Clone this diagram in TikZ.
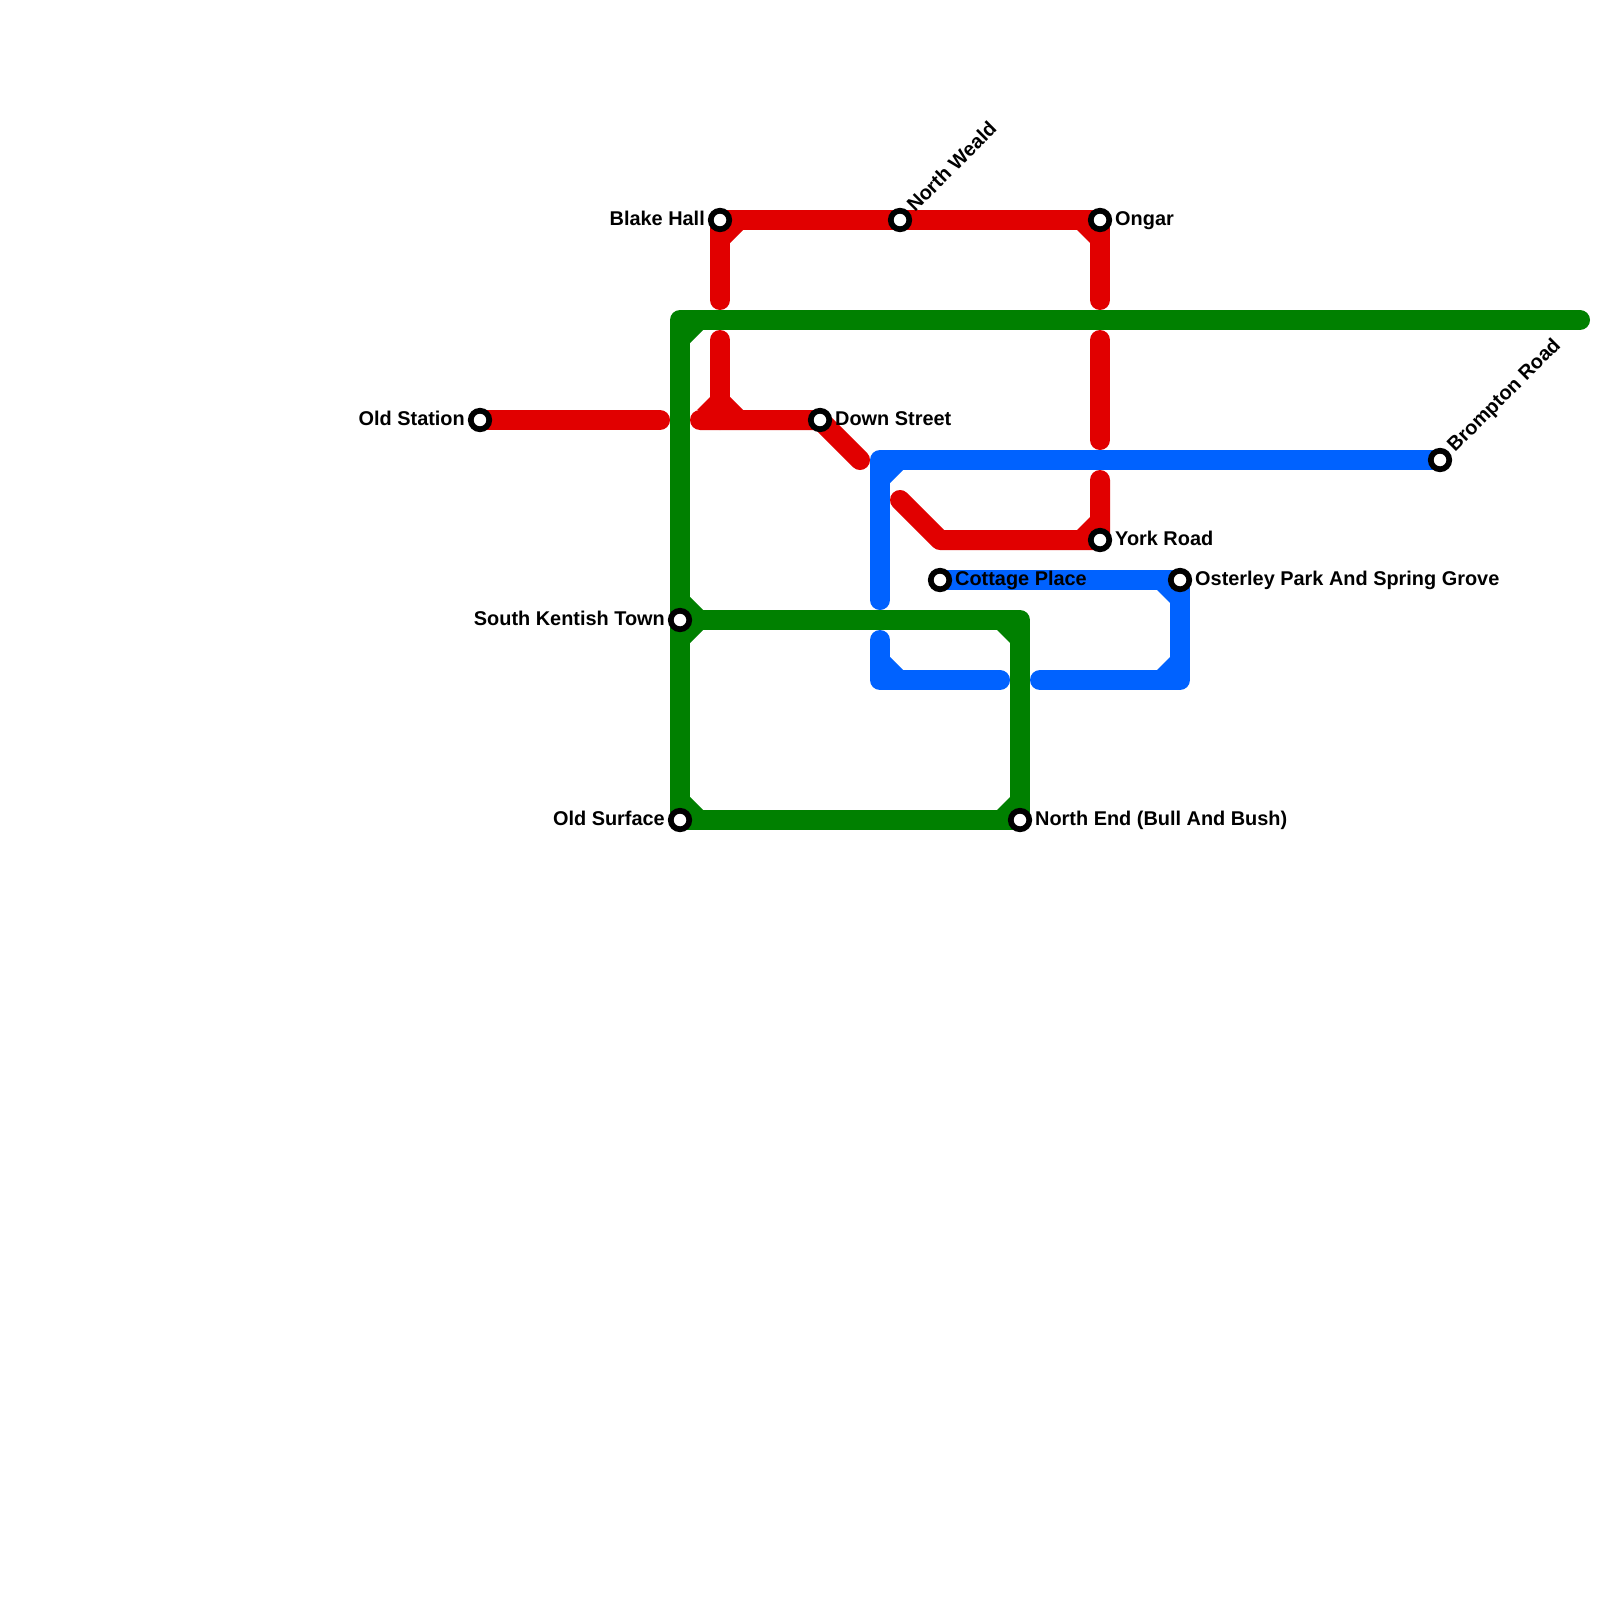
\documentclass[tikz,border=0pt]{standalone}
\usepackage{fontspec}
\setmainfont{Liberation Sans}[BoldFont={Liberation Sans Bold}]
\usetikzlibrary{backgrounds}
\definecolor{mred}{RGB}{225,0,0}
\definecolor{mgreen}{RGB}{0,128,0}
\definecolor{mblue}{RGB}{0,98,255}
\tikzset{
  x=1pt,y=-1pt,
  stn/.style={circle,draw=black,fill=white,line width=5.7pt,minimum size=18.5pt,inner sep=0pt,outer sep=0pt},
  lab/.style={font=\bfseries\fontsize{19.9}{22}\selectfont,text=black,inner sep=0pt},
  route/.style={line width=20pt,line cap=round,line join=round},
  redline/.style={route,draw=mred},
  greenline/.style={route,draw=mgreen},
  blueline/.style={route,draw=mblue},
}
\newcommand{\chamf}[4]{\fill[#2] (#1) -- ++({#3*10},{#4*23}) -- ++({#3*13},{#4*(-13)}) -- cycle;}
\begin{document}
\begin{tikzpicture}
\useasboundingbox (0,0) rectangle (1600,1600);
% stations
\node[stn] (oldstation) at (480,420) {};
\node[stn] (blake) at (720,220) {};
\node[stn] (weald) at (900,220) {};
\node[stn] (ongar) at (1100,220) {};
\node[stn] (down) at (820,420) {};
\node[stn] (york) at (1100,540) {};
\node[stn] (cottage) at (940,580) {};
\node[stn] (osterley) at (1180,580) {};
\node[stn] (brompton) at (1440,460) {};
\node[stn] (kentish) at (680,620) {};
\node[stn] (surface) at (680,820) {};
\node[stn] (northend) at (1020,820) {};
% labels
\node[lab,anchor=base east] (loldstation) at (465,425) {Old Station};
\node[lab,anchor=base east] (lblake) at (705,225) {Blake Hall};
\node[lab,anchor=base west,rotate=45] (lweald) at (915,213) {North Weald};
\node[lab,anchor=base west] (longar) at (1115,225) {Ongar};
\node[lab,anchor=base west] (ldown) at (835,425) {Down Street};
\node[lab,anchor=base west] (lyork) at (1115,545) {York Road};
\node[lab,anchor=base west] (lcottage) at (955,585) {Cottage Place};
\node[lab,anchor=base west] (losterley) at (1195,585) {Osterley Park And Spring Grove};
\node[lab,anchor=base west,rotate=45] (lbrompton) at (1455,453) {Brompton Road};
\node[lab,anchor=base east] (lkentish) at (665,625) {South Kentish Town};
\node[lab,anchor=base east] (lsurface) at (665,825) {Old Surface};
\node[lab,anchor=base west] (lnorthend) at (1035,825) {North End (Bull And Bush)};
% junctions and free ends
\coordinate (gtl) at (680,320);
\coordinate (gtr) at (1580,320);
\coordinate (grt) at (1020,620);
\coordinate (ra) at (660,420);
\coordinate (rb) at (700,420);
\coordinate (rj) at (720,420);
\coordinate (rc) at (720,300);
\coordinate (rd) at (720,340);
\coordinate (re) at (860,460);
\coordinate (rf) at (900,500);
\coordinate (rg) at (940,540);
\coordinate (rh) at (1100,480);
\coordinate (ri) at (1100,440);
\coordinate (rk) at (1100,340);
\coordinate (rl) at (1100,300);
\coordinate (btl) at (880,460);
\coordinate (ba) at (880,600);
\coordinate (bb) at (880,640);
\coordinate (bbl) at (880,680);
\coordinate (bc) at (1000,680);
\coordinate (bd) at (1040,680);
\coordinate (bbr) at (1180,680);
\begin{scope}[on background layer]
\fill[white] (0,0) rectangle (1600,1600);
% red
\draw[redline] (oldstation.center) -- (ra);
\draw[redline] (rc) -- (blake.center) -- (weald.center) -- (ongar.center) -- (rl);
\draw[redline] (rd) -- (rj);
\draw[redline] (rb) -- (down.center) -- (re);
\draw[redline] (rf) -- (rg) -- (york.center) -- (rh);
\draw[redline] (ri) -- (rk);
\chamf{blake.center}{mred}{1}{1}
\chamf{ongar.center}{mred}{-1}{1}
\chamf{york.center}{mred}{-1}{-1}
\chamf{rj}{mred}{1}{-1}
\chamf{rj}{mred}{-1}{-1}
% blue
\draw[blueline] (ba) -- (btl) -- (brompton.center);
\draw[blueline] (bb) -- (bbl) -- (bc);
\draw[blueline] (bd) -- (bbr) -- (osterley.center) -- (cottage.center);
\chamf{btl}{mblue}{1}{1}
\chamf{bbl}{mblue}{1}{-1}
\chamf{bbr}{mblue}{-1}{-1}
\chamf{osterley.center}{mblue}{-1}{1}
% green
\draw[greenline] (gtr) -- (gtl) -- (surface.center) -- (northend.center) -- (grt) -- (kentish.center);
\chamf{gtl}{mgreen}{1}{1}
\chamf{kentish.center}{mgreen}{1}{1}
\chamf{kentish.center}{mgreen}{1}{-1}
\chamf{surface.center}{mgreen}{1}{-1}
\chamf{northend.center}{mgreen}{-1}{-1}
\chamf{grt}{mgreen}{-1}{1}
\end{scope}
\end{tikzpicture}
\end{document}
